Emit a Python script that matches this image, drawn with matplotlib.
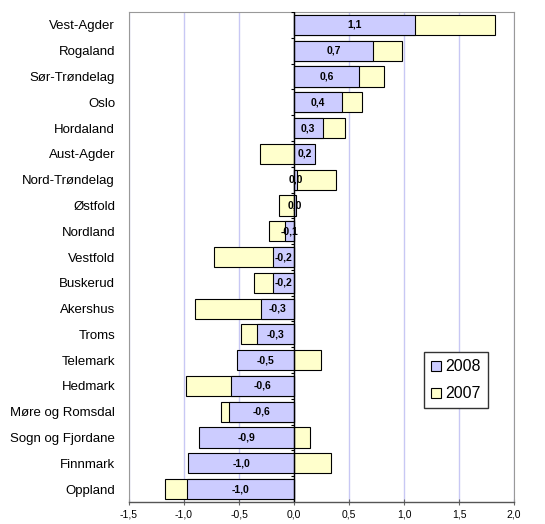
import numpy as np
import matplotlib
matplotlib.use("Agg")
import matplotlib.pyplot as plt
from matplotlib.ticker import FuncFormatter

plt.rcParams['font.family'] = ['Liberation Sans', 'DejaVu Sans']

fylker = ['Vest-Agder', 'Rogaland', 'Sør-Trøndelag', 'Oslo', 'Hordaland',
          'Aust-Agder', 'Nord-Trøndelag', 'Østfold', 'Nordland', 'Vestfold',
          'Buskerud', 'Akershus', 'Troms', 'Telemark', 'Hedmark',
          'Møre og Romsdal', 'Sogn og Fjordane', 'Finnmark', 'Oppland']
v2008 = [1.10, 0.72, 0.59, 0.44, 0.26, 0.19, 0.03, 0.02, -0.08, -0.19,
         -0.19, -0.30, -0.34, -0.52, -0.57, -0.59, -0.86, -0.96, -0.97]
v2007 = [1.83, 0.98, 0.82, 0.62, 0.46, -0.31, 0.38, -0.14, -0.23, -0.73,
         -0.36, -0.90, -0.48, 0.25, -0.98, -0.66, 0.15, 0.34, -1.17]

def komma(x, pos=None):
    return f'{x:.1f}'.replace('.', ',')

fig = plt.figure(figsize=(5.45, 5.24), dpi=100)
ax = fig.add_axes([0.2367, 0.042, 0.7064, 0.935])

y = np.arange(len(fylker))[::-1]
h = 0.78
ax.barh(y, v2007, height=h, color='#ffffcc', edgecolor='black', linewidth=0.8, label='2007', zorder=2)
ax.barh(y, v2008, height=h, color='#ccccff', edgecolor='black', linewidth=0.8, label='2008', zorder=3)

for yi, v in zip(y, v2008):
    ax.text(v / 2, yi, komma(v), ha='center', va='center', fontsize=7.5,
            fontweight='bold', zorder=5)

# category axis at zero with ticks between categories
ax.axvline(0, color='black', linewidth=1.0, zorder=4)
bounds = np.arange(len(fylker) + 1) - 0.5
ax.hlines(bounds, -0.03, 0, color='black', linewidth=0.8, zorder=4)

ax.set_xlim(-1.5, 2.0)
ax.set_ylim(-0.5, len(fylker) - 0.5)
ax.set_xticks(np.arange(-1.5, 2.01, 0.5))
ax.xaxis.set_major_formatter(FuncFormatter(komma))
ax.set_yticks(y)
ax.set_yticklabels(fylker)
ax.tick_params(axis='y', length=0, pad=10, labelsize=9.5)
ax.tick_params(axis='x', labelsize=7.5, length=4, direction='inout', color='#666666')
ax.grid(axis='x', color='#c8c8f4', linewidth=1.0, zorder=0)
ax.set_axisbelow(True)
for s in ['left', 'right', 'top']:
    ax.spines[s].set_color('#999999')
ax.spines['bottom'].set_color('#555555')
ax.spines['bottom'].set_linewidth(1.0)

handles, labels = ax.get_legend_handles_labels()
leg = ax.legend(handles[::-1], labels[::-1], loc='upper left',
                bbox_to_anchor=(0.766, 0.306), borderaxespad=0, fontsize=11.5,
                handlelength=0.6, handleheight=0.6, handletextpad=0.3,
                fancybox=False, edgecolor='#333333', framealpha=1,
                borderpad=0.45, labelspacing=0.75)
leg.get_frame().set_linewidth(1.0)

fig.savefig('out.png', dpi=100)
